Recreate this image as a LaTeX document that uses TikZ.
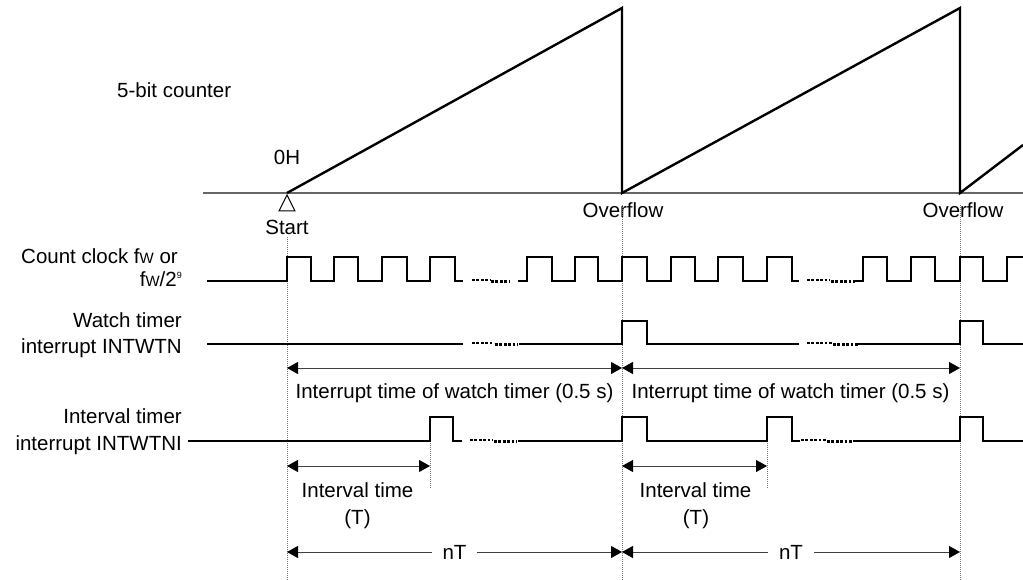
\documentclass[tikz,border=0pt]{standalone}
\usepackage{fontspec}
\setmainfont{Liberation Sans}
\usetikzlibrary{arrows.meta}
\begin{document}
\begin{tikzpicture}[x=1pt,y=-1pt,
  wave/.style={line width=2.4pt, line join=miter},
  baseln/.style={line width=1.2pt, draw=black!60},
  guide/.style={line width=0.8pt, draw=black!55, dash pattern=on 1pt off 1pt},
  brk/.style={line width=2.6pt, dash pattern=on 2.8pt off 1.6pt},
  dimarrow/.style={line width=1pt, draw=black!75, {Triangle[length=11pt,width=12pt,black]}-{Triangle[length=11pt,width=12pt,black]}},
  lbl/.style={font=\fontsize{20.5}{24}\selectfont, inner sep=0pt},
]
\useasboundingbox (0,0) rectangle (1023,580);
\newcommand{\smW}{{\fontsize{15}{15}\selectfont W}}
% key coordinates
\coordinate (s) at (287,193);
\coordinate (o1) at (622,193);
\coordinate (o2) at (960,193);
% labels
\node[lbl, anchor=base west] (cnt) at (117,98) {5-bit counter};
\node[lbl, anchor=base] (zh) at (287,165) {0H};
\node[lbl, anchor=base] (start) at (287,235) {Start};
\node[lbl, anchor=base] (ov1) at (623,218) {Overflow};
\node[lbl, anchor=base] (ov2) at (963,218) {Overflow};
\node[lbl, anchor=base east] (cc1) at (178,263) {Count clock f\smW{} or};
\node[lbl, anchor=base east] (cc2) at (182,287) {f\smW/2\raisebox{8pt}{\fontsize{9}{9}\selectfont 9}};
\node[lbl, anchor=base east] (wt1) at (182,327) {Watch timer};
\node[lbl, anchor=base east] (wt2) at (182,353) {interrupt INTWTN};
\node[lbl, anchor=base east] (it1) at (182,423) {Interval timer};
\node[lbl, anchor=base east] (it2) at (182,450) {interrupt INTWTNI};
% guides
\draw[guide] (287,237) -- (287,580);
\draw[guide] (622,205) -- (622,580);
\draw[guide] (960,205) -- (960,580);
\draw[guide] (430,441) -- (430,488);
\draw[guide] (767,441) -- (767,488);
% counter
\draw[baseln] (203,193) -- (1023,193);
\draw[wave] (s) -- (622,8) -- (o1) -- (960,8) -- (o2) -- (1023,145);
\draw[line width=1pt] (287,195) -- (279,211) -- (295,211) -- cycle;
% count clock
\draw[wave] (207,281) -- (287,281) -- (287,257) -- (311,257) -- (311,281) -- (334,281) -- (334,257) -- (358,257) -- (358,281) -- (382,281) -- (382,257) -- (407,257) -- (407,281) -- (430,281) -- (430,257) -- (455,257) -- (455,281) -- (463,281);
\draw[brk] (472,280) -- (490,280);
\draw[brk] (491,281.5) -- (509,281.5);
\draw[wave] (518,281) -- (527,281) -- (527,257) -- (552,257) -- (552,281) -- (575,281) -- (575,257) -- (598,257) -- (598,281) -- (622,281) -- (622,257) -- (647,257) -- (647,281) -- (671,281) -- (671,257) -- (695,257) -- (695,281) -- (718,281) -- (718,257) -- (743,257) -- (743,281) -- (767,281) -- (767,257) -- (792,257) -- (792,281) -- (799,281);
\draw[brk] (807,280) -- (830,280);
\draw[brk] (831,281.5) -- (855,281.5);
\draw[wave] (855,281) -- (863,281) -- (863,257) -- (887,257) -- (887,281) -- (911,281) -- (911,257) -- (935,257) -- (935,281) -- (960,281) -- (960,257) -- (983,257) -- (983,281) -- (1007,281) -- (1007,257) -- (1023,257);
% watch timer interrupt
\draw[wave] (207,344) -- (463,344);
\draw[brk] (472,343) -- (494,343);
\draw[brk] (495,344.5) -- (518,344.5);
\draw[wave] (519,344) -- (622,344) -- (622,321) -- (647,321) -- (647,344) -- (799,344);
\draw[brk] (807,343) -- (832,343);
\draw[brk] (833,344.5) -- (858,344.5);
\draw[wave] (858,344) -- (960,344) -- (960,321) -- (983,321) -- (983,344) -- (1023,344);
% interval timer interrupt
\draw[wave] (188,441) -- (430,441) -- (430,417) -- (453,417) -- (453,441) -- (462,441);
\draw[brk] (470,440) -- (493,440);
\draw[brk] (494,441.5) -- (517,441.5);
\draw[wave] (518,441) -- (622,441) -- (622,417) -- (647,417) -- (647,441) -- (767,441) -- (767,417) -- (792,417) -- (792,441) -- (800,441);
\draw[brk] (801,440) -- (826,440);
\draw[brk] (827,441.5) -- (852,441.5);
\draw[wave] (853,441) -- (960,441) -- (960,417) -- (983,417) -- (983,441) -- (1023,441);
% dimension coordinates
\coordinate (a0) at (287,368);
\coordinate (a1) at (622,368);
\coordinate (a2) at (960,368);
\coordinate (b0) at (287,466);
\coordinate (b1) at (430,466);
\coordinate (b2) at (622,466);
\coordinate (b3) at (767,466);
\coordinate (c0) at (287,552);
\coordinate (c1) at (622,552);
\coordinate (c2) at (960,552);
\draw[dimarrow] (a0) -- (a1);
\draw[dimarrow] (a1) -- (a2);
\node[lbl, anchor=base] (iw1) at (454.5,398) {Interrupt time of watch timer (0.5 s)};
\node[lbl, anchor=base] (iw2) at (790.5,398) {Interrupt time of watch timer (0.5 s)};
\draw[dimarrow] (b0) -- (b1);
\draw[dimarrow] (b2) -- (b3);
\node[lbl, anchor=base] (iv1) at (357.5,497) {Interval time};
\node[lbl, anchor=base] (t1) at (357.5,524) {(T)};
\node[lbl, anchor=base] (iv2) at (695.5,497) {Interval time};
\node[lbl, anchor=base] (t2) at (696,524) {(T)};
\draw[dimarrow] (c0) -- node[lbl, fill=white, inner xsep=11pt, inner ysep=2pt] (nt1) {nT} (c1);
\draw[dimarrow] (c1) -- node[lbl, fill=white, inner xsep=11pt, inner ysep=2pt] (nt2) {nT} (c2);
\end{tikzpicture}
\end{document}
